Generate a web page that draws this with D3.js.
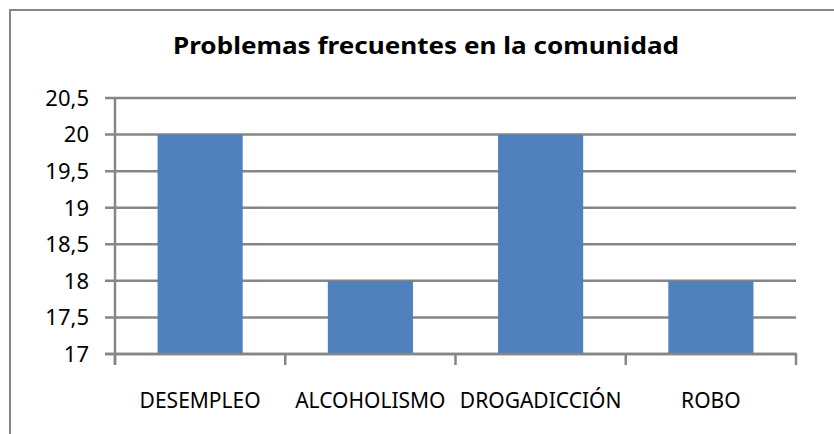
<!DOCTYPE html>
<html>
<head>
<meta charset="utf-8">
<script src="https://cdn.jsdelivr.net/npm/d3@7"></script>
<style>
  body { margin: 0; background: #fff; }
  svg text { font-family: "Noto Sans", "Open Sans", sans-serif; fill: #000; }
</style>
</head>
<body>
<svg id="chart" width="834" height="434"></svg>
<script>
// data
var categories = ["DESEMPLEO", "ALCOHOLISMO", "DROGADICCIÓN", "ROBO"];
var values = [20, 18, 20, 18];
var yTicks = [17, 17.5, 18, 18.5, 19, 19.5, 20, 20.5];
var title = "Problemas frecuentes en la comunidad";

var svg = d3.select("#chart");
var gridColor = "#868686";
var barColor = "#4F81BD";

var plot = { left: 115, right: 796, top: 98, bottom: 354 };

// outer chart border (only top/left visible in the crop)
svg.append("rect")
    .attr("x", 10)
    .attr("y", 10)
    .attr("width", 840)
    .attr("height", 440)
    .attr("fill", "none")
    .attr("stroke", gridColor)
    .attr("stroke-width", 2);

var x = d3.scaleBand()
    .domain(categories)
    .range([plot.left, plot.right])
    .paddingInner(0.5)
    .paddingOuter(0.25);

var xCat = d3.scaleBand()
    .domain(categories)
    .range([plot.left, plot.right])
    .padding(0);

var y = d3.scaleLinear()
    .domain([17, 20.5])
    .range([plot.bottom, plot.top]);

var fmt = function (d) {
    return d3.format("~g")(d).replace(".", ",");
};

// gridlines
svg.append("g")
    .selectAll("line")
    .data(yTicks)
    .join("line")
    .attr("x1", plot.left - 10)
    .attr("x2", plot.right)
    .attr("y1", function (d) { return y(d); })
    .attr("y2", function (d) { return y(d); })
    .attr("stroke", gridColor)
    .attr("stroke-width", 2.5);

// bars
svg.append("g")
    .selectAll("rect")
    .data(values)
    .join("rect")
    .attr("x", function (d, i) { return x(categories[i]); })
    .attr("width", x.bandwidth())
    .attr("y", function (d) { return y(d); })
    .attr("height", function (d) { return y(17) - y(d); })
    .attr("fill", barColor);

// y axis line
svg.append("line")
    .attr("x1", plot.left)
    .attr("x2", plot.left)
    .attr("y1", plot.top - 1)
    .attr("y2", plot.bottom + 11)
    .attr("stroke", gridColor)
    .attr("stroke-width", 2.5);

// x axis line + category ticks
svg.append("line")
    .attr("x1", plot.left - 10)
    .attr("x2", plot.right + 1)
    .attr("y1", plot.bottom)
    .attr("y2", plot.bottom)
    .attr("stroke", gridColor)
    .attr("stroke-width", 2.5);

var bounds = categories.map(function (c) { return xCat(c); }).concat([plot.right]);
svg.append("g")
    .selectAll("line")
    .data(bounds)
    .join("line")
    .attr("x1", function (d) { return d; })
    .attr("x2", function (d) { return d; })
    .attr("y1", plot.bottom)
    .attr("y2", plot.bottom + 11)
    .attr("stroke", gridColor)
    .attr("stroke-width", 2.5);

// y tick labels
svg.append("g")
    .selectAll("text")
    .data(yTicks)
    .join("text")
    .attr("x", 89)
    .attr("y", function (d) { return y(d); })
    .attr("dy", "0.36em")
    .attr("text-anchor", "end")
    .attr("font-size", 22)
    .text(fmt);

// x category labels
svg.append("g")
    .selectAll("text")
    .data(categories)
    .join("text")
    .attr("x", function (d) { return xCat(d) + xCat.bandwidth() / 2; })
    .attr("y", 408)
    .attr("text-anchor", "middle")
    .attr("font-size", 21)
    .text(function (d) { return d; });

// title
svg.append("text")
    .attr("x", 173)
    .attr("y", 54)
    .attr("text-anchor", "start")
    .attr("font-size", 24)
    .attr("font-weight", "bold")
    .attr("textLength", 506)
    .attr("lengthAdjust", "spacingAndGlyphs")
    .text(title);
</script>
</body>
</html>
